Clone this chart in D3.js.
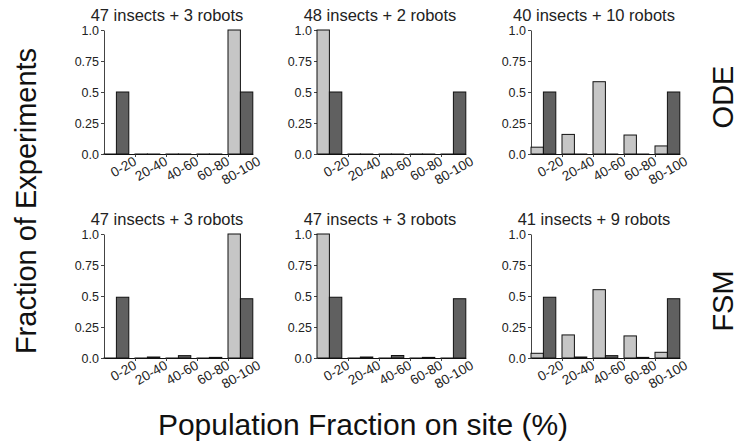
<!DOCTYPE html>
<html>
<head>
<meta charset="utf-8">
<script src="https://cdn.jsdelivr.net/npm/d3@7"></script>
<style>
  body { margin: 0; background: #fff; }
  svg { display: block; }
  svg text { font-family: "Liberation Sans", Arial, sans-serif; }
  svg text.ytick { font-family: "Liberation Sans Narrow", "Liberation Sans", Arial, sans-serif; }
</style>
</head>
<body>
<svg width="739" height="447"></svg>
<script>
// bins on the x axis
const categories = ["0-20", "20-40", "40-60", "60-80", "80-100"]
const yTicks = [0, 0.25, 0.5, 0.75, 1]
const yTickLabels = ["0.0", "0.25", "0.5", "0.75", "1.0"]

const rowNames = ["ODE", "FSM"]
const panelTitles = [
    "47 insects + 3 robots", "48 insects + 2 robots", "40 insects + 10 robots",
    "47 insects + 3 robots", "47 insects + 3 robots", "41 insects + 9 robots"
]

// light grey bars (first bar of each bin)
const lightValues = [
    [0, 0, 0, 0, 1.0],
    [1.0, 0, 0, 0, 0],
    [0.055, 0.158, 0.583, 0.153, 0.065],
    [0, 0, 0, 0, 1.0],
    [1.0, 0, 0, 0, 0],
    [0.038, 0.186, 0.551, 0.178, 0.046]
]
// dark grey bars (second bar of each bin)
const darkValues = [
    [0.5, 0, 0, 0, 0.5],
    [0.5, 0, 0, 0, 0.5],
    [0.5, 0, 0, 0, 0.5],
    [0.49, 0.008, 0.019, 0.005, 0.478],
    [0.49, 0.008, 0.02, 0.005, 0.478],
    [0.49, 0.008, 0.019, 0.005, 0.478]
]

const svg = d3.select("svg")
const colX = [104, 317, 531]
const rowY = [30, 234]
const plotH = 124
const unit = 31          // px per bin
const barW = 0.4         // in bin units

const x = d3.scaleLinear().domain([0, 4.8]).range([0, 4.8 * unit])
const y = d3.scaleLinear().domain([0, 1]).range([plotH, 0])

const lightCol = "#c6c6c6"
const darkCol = "#606060"

panelTitles.forEach((title, p) => {
    const col = p % 3, row = Math.floor(p / 3)
    const g = svg.append("g")
        .attr("transform", `translate(${colX[col]},${rowY[row]})`)

    const bars = categories.map((c, i) => [
        {i, off: 0, v: lightValues[p][i], fill: lightCol},
        {i, off: barW, v: darkValues[p][i], fill: darkCol}
    ]).flat()

    // y axis
    const ya = g.append("g")
        .call(d3.axisLeft(y).tickValues(yTicks).tickSize(3).tickSizeOuter(0).tickPadding(2)
            .tickFormat((d, i) => yTickLabels[i]))
    ya.attr("font-family", null)
    ya.select(".domain").attr("stroke", "#444")
    ya.selectAll(".tick line").attr("stroke", "#444")
    ya.selectAll("text").attr("class", "ytick").attr("fill", "#222").style("font-size", "12.5px")

    // x axis, ticks at the end of each bin
    const xa = g.append("g")
        .attr("transform", `translate(0,${plotH})`)
        .call(d3.axisBottom(x).tickValues(d3.range(1, 6)).tickSize(3).tickSizeOuter(0)
            .tickFormat((d, i) => categories[i]))
    xa.attr("font-family", null)
    xa.select(".domain").attr("stroke", "#111")
    xa.selectAll(".tick line").attr("stroke", "#444")
        .attr("opacity", d => d > 4.8 ? 0 : 1)
    xa.selectAll("text")
        .attr("fill", "#222")
        .attr("y", 0).attr("dy", 0)
        .attr("text-anchor", "end")
        .attr("transform", "translate(2,10) rotate(-30)")
        .style("font-size", "13.5px")

    g.selectAll(".bar").data(bars).enter().append("rect")
        .attr("class", "bar")
        .attr("x", d => x(d.i + d.off))
        .attr("width", x(barW) - x(0))
        .attr("y", d => y(d.v))
        .attr("height", d => Math.max(y(0) - y(d.v), 0.01))
        .attr("fill", d => d.fill)
        .attr("stroke", "#111")
        .attr("stroke-width", 1)

    g.append("text")
        .attr("x", 63)
        .attr("y", -9)
        .attr("text-anchor", "middle")
        .attr("fill", "#222")
        .style("font-size", "16.5px")
        .text(title)
})

// row labels on the right
rowNames.forEach((name, r) => {
    svg.append("text")
        .attr("transform", `translate(733,${rowY[r] + 67}) rotate(-90)`)
        .attr("text-anchor", "middle")
        .attr("fill", "#111")
        .style("font-size", "29px")
        .text(name)
})

svg.append("text")
    .attr("transform", "translate(36,201) rotate(-90)")
    .attr("text-anchor", "middle")
    .attr("fill", "#111")
    .style("font-size", "29px")
    .text("Fraction of Experiments")

svg.append("text")
    .attr("x", 363)
    .attr("y", 435)
    .attr("text-anchor", "middle")
    .attr("fill", "#111")
    .style("font-size", "30px")
    .text("Population Fraction on site (%)")
</script>
</body>
</html>
